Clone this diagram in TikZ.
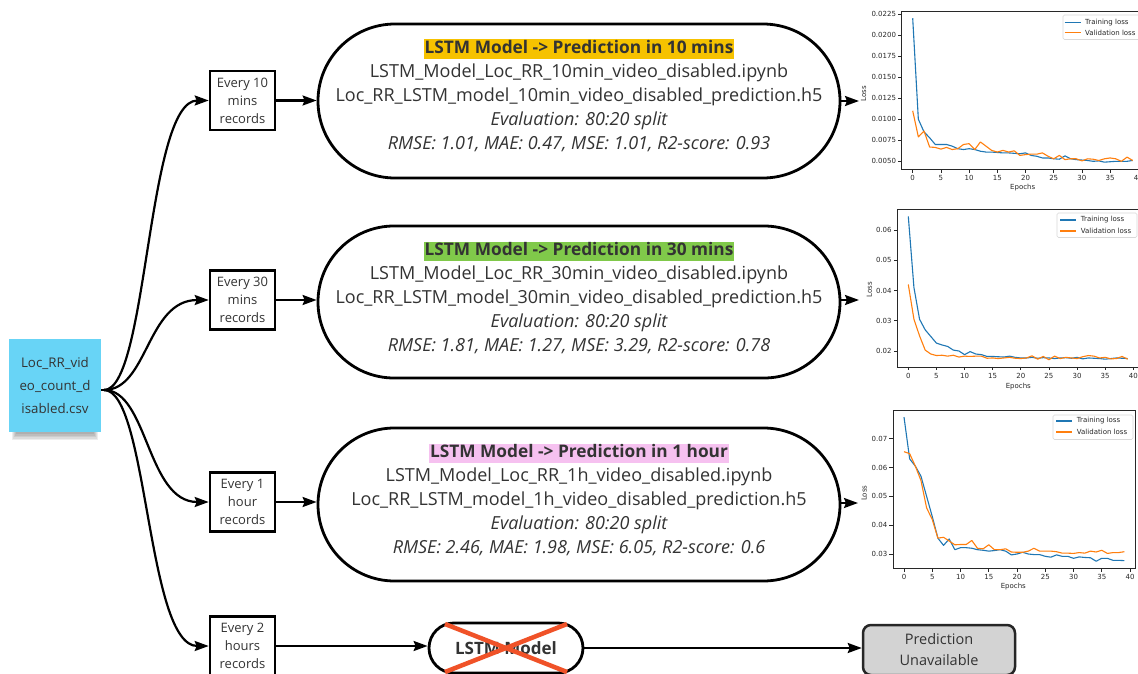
\documentclass[tikz,border=0pt]{standalone}
\usepackage{fontspec}
\setmainfont{Open Sans}
\newfontfamily\plotfont{DejaVu Sans}
\usetikzlibrary{arrows.meta,shapes.misc,calc}
\definecolor{srcblue}{RGB}{104,212,246}
\definecolor{hlyellow}{RGB}{246,194,0}
\definecolor{hlgreen}{RGB}{128,201,74}
\definecolor{hlpink}{RGB}{246,193,240}
\definecolor{txtgray}{RGB}{51,51,51}
\definecolor{crossred}{RGB}{240,82,40}
\definecolor{unavail}{RGB}{211,211,211}
\definecolor{mplblue}{RGB}{31,119,180}
\definecolor{mplorange}{RGB}{255,127,14}
\definecolor{axgray}{RGB}{40,40,40}
\setlength{\fboxsep}{1pt}
\newcommand{\hlbox}[2]{\colorbox{#1}{\rule[-4.5pt]{0pt}{17pt}\fontsize{17.3}{24}\selectfont\bfseries #2}}
\tikzset{
  flow/.style={line width=2.2pt, draw=black, -{Stealth[length=14pt,width=10pt,inset=2pt]}},
  ratebox/.style={draw=black, line width=2.6pt, minimum width=65pt, minimum height=59pt,
    inner sep=0pt, align=center, font=\fontsize{13}{18}\selectfont, text=txtgray},
  stadium/.style={rounded rectangle, draw=black, line width=2.8pt, minimum width=522pt, inner sep=0pt},
  bodytext/.style={align=center, font=\fontsize{18}{24}\selectfont, text=txtgray, inner sep=0pt},
  spine/.style={draw=axgray, line width=0.7pt},
  ticklbl/.style={font=\plotfont\fontsize{7}{8}\selectfont, text=axgray, inner sep=0pt},
  trainline/.style={draw=mplblue, line width=1.1pt, line join=round},
  validline/.style={draw=mplorange, line width=1.1pt, line join=round},
  legendbox/.style={draw=black!15, fill=white, rounded corners=1.5pt, line width=0.6pt},
}
\begin{document}
\begin{tikzpicture}[x=1pt,y=-1pt]
\clip (0,0) rectangle (1138,674);
\fill[white] (0,0) rectangle (1138,674);

% soft shadow under the source note
\foreach \i in {0,...,4}
  \fill[black, opacity=0.07] (16-\i,428) rectangle (94+\i,434+1.5*\i);

% source file
\node (src) [fill=srcblue, minimum width=92pt, minimum height=93pt, inner sep=0pt, align=center,
  font=\fontsize{13.3}{23}\selectfont, text=txtgray] at (55,385.5) {Loc\_RR\_vid\\eo\_count\_d\\isabled.csv};
\coordinate (fork) at (104,390);

% sampling boxes
\node (b1) [ratebox] at (242.5,100.5) {Every 10\\mins\\records};
\node (b2) [ratebox] at (242.5,300) {Every 30\\mins\\records};
\node (b3) [ratebox] at (242.5,502) {Every 1\\hour\\records};
\node (b4) [ratebox] at (242.5,646) {Every 2\\hours\\records};

% branches from the source
\draw[line width=2.2pt] (src.east |- fork) -- (fork);
\foreach \b in {b1,b2,b3,b4}
  \draw[flow] (fork) .. controls ($(fork)+(44,0)$) and ($(\b.west)+(-62,0)$) .. (\b.west);

% model stadiums
\node (s1) [stadium, minimum height=154pt] at (579,101) {};
\node (s2) [stadium, minimum height=152pt] at (579,302) {};
\node (s3) [stadium, minimum height=153pt] at (579,504.5) {};

\node (t1) [bodytext] at (579,95.5) {\hlbox{hlyellow}{LSTM Model -> Prediction in 10 mins}\\
  LSTM\_Model\_Loc\_RR\_10min\_video\_disabled.ipynb\\
  Loc\_RR\_LSTM\_model\_10min\_video\_disabled\_prediction.h5\\
  \itshape Evaluation: 80:20 split\\
  \itshape RMSE: 1.01, MAE: 0.47, MSE: 1.01, R2-score: 0.93};
\node (t2) [bodytext] at (579,298) {\hlbox{hlgreen}{LSTM Model -> Prediction in 30 mins}\\
  LSTM\_Model\_Loc\_RR\_30min\_video\_disabled.ipynb\\
  Loc\_RR\_LSTM\_model\_30min\_video\_disabled\_prediction.h5\\
  \itshape Evaluation: 80:20 split\\
  \itshape RMSE: 1.81, MAE: 1.27, MSE: 3.29, R2-score: 0.78};
\node (t3) [bodytext] at (579,500) {\hlbox{hlpink}{LSTM Model -> Prediction in 1 hour}\\
  LSTM\_Model\_Loc\_RR\_1h\_video\_disabled.ipynb\\
  Loc\_RR\_LSTM\_model\_1h\_video\_disabled\_prediction.h5\\
  \itshape Evaluation: 80:20 split\\
  \itshape RMSE: 2.46, MAE: 1.98, MSE: 6.05, R2-score: 0.6};

\draw[flow] (b1.east) -- (b1.east -| s1.west);
\draw[flow] (b2.east) -- (b2.east -| s2.west);
\draw[flow] (b3.east) -- (b3.east -| s3.west);

\coordinate (p1in) at (859,101);
\coordinate (p2in) at (859,300);
\coordinate (p3in) at (858,503);
\draw[flow] (s1.east) -- (p1in);
\draw[flow] (s2.east |- p2in) -- (p2in);
\draw[flow] (s3.east |- p3in) -- (p3in);

% two-hour branch: no model
\node (s4) [rounded rectangle, draw=black, line width=2.8pt, minimum width=154pt, minimum height=50pt,
  inner sep=0pt, font=\fontsize{17}{20}\selectfont\bfseries, text=txtgray] at (506,648) {LSTM Model};
\draw[crossred, line width=4.5pt] ($(s4.center)+(-61,-24)$) -- ($(s4.center)+(61,24)$);
\draw[crossred, line width=4.5pt] ($(s4.center)+(-61,24)$) -- ($(s4.center)+(61,-24)$);
\node (na) [draw=black!85, line width=2.5pt, rounded corners=8pt, fill=unavail, minimum width=152pt,
  minimum height=50pt, align=center, font=\fontsize{14.5}{21}\selectfont, text=txtgray] at (939,650)
  {Prediction\\Unavailable};
\draw[flow] (b4.east) -- (b4.east -| s4.west);
\draw[flow] (s4.east) -- (s4.east -| na.west);

% ---------- loss curve, 10 min model ----------
\begin{scope}[xshift=912.7pt, yshift=-203.4pt, x=5.64pt, y=0.8416pt]
  \draw[spine] (-1.95,40.5) rectangle (40.95,228.6);
  \foreach \v in {0,5,...,40} {
    \draw[spine] (\v,40.5) -- ++(0pt,-3.5pt);
    \node (p1x\v) [ticklbl, anchor=north] at ($(\v,40.5)+(0pt,-6pt)$) {\v};
  }
  \foreach \v/\l in {50/0.0050,75/0.0075,100/0.0100,125/0.0125,150/0.0150,175/0.0175,200/0.0200,225/0.0225} {
    \draw[spine] (-1.95,\v) -- ++(-3.5pt,0pt);
    \node (p1y\v) [ticklbl, anchor=east] at ($(-1.95,\v)+(-5.5pt,0pt)$) {\l};
  }
  \draw[trainline] plot coordinates {(0,220) (1,100) (2,85) (3,78) (4,70) (5,70) (6,70) (7,68) (8,65) (9,64)
    (10,65) (11,64) (12,62) (13,61) (14,61) (15,60.5) (16,60) (17,60) (18,59.5) (19,59) (20,60) (21,57)
    (22,56) (23,54) (24,54) (25,53) (26,52.5) (27,56.5) (28,53) (29,52) (30,51.5) (31,51) (32,50) (33,50.5)
    (34,49) (35,49.5) (36,50) (37,50) (38,50) (39,51)};
  \draw[validline] plot coordinates {(0,110) (1,79) (2,86) (3,67) (4,66.5) (5,64.5) (6,66.5) (7,64) (8,65)
    (9,70) (10,71) (11,64) (12,73) (13,68) (14,63) (15,61) (16,63) (17,61) (18,62.5) (19,57) (20,58)
    (21,58.5) (22,58.5) (23,60) (24,56) (25,53) (26,57) (27,52) (28,53) (29,53) (30,50.5) (31,53) (32,52.5)
    (33,51) (34,53) (35,54) (36,53) (37,50) (38,55) (39,51)};
\end{scope}
\node (p1loss) [ticklbl, rotate=90] at (863.5,93.5) {Loss};
\node (p1ep) [ticklbl] at (1022.7,187.5) {Epochs};
\draw[legendbox] (1063,15) rectangle (1145,39.5);
\draw[mplblue, line width=1.1pt] (1064.5,22.3) -- (1080.5,22.3);
\draw[mplorange, line width=1.1pt] (1064.5,32.7) -- (1080.5,32.7);
\node (p1l1) [ticklbl, anchor=west] at (1085,22.3) {Training loss};
\node (p1l2) [ticklbl, anchor=west] at (1085,32.7) {Validation loss};

% ---------- loss curve, 30 min model ----------
\begin{scope}[xshift=908.3pt, yshift=-411.5pt, x=5.625pt, y=3.025pt]
  \draw[spine] (-1.95,14.73) rectangle (40.95,66.87);
  \foreach \v in {0,5,...,40} {
    \draw[spine] (\v,14.73) -- ++(0pt,-3.5pt);
    \node (p2x\v) [ticklbl, anchor=north] at ($(\v,14.73)+(0pt,-6pt)$) {\v};
  }
  \foreach \v/\l in {20/0.02,30/0.03,40/0.04,50/0.05,60/0.06} {
    \draw[spine] (-1.95,\v) -- ++(-3.5pt,0pt);
    \node (p2y\v) [ticklbl, anchor=east] at ($(-1.95,\v)+(-5.5pt,0pt)$) {\l};
  }
  \draw[trainline] plot coordinates {(0,64.5) (1,41) (2,30.5) (3,27) (4,24.8) (5,22.6) (6,22) (7,21.5)
    (8,20.3) (9,20) (10,18.8) (11,19.8) (12,19) (13,18.8) (14,18.2) (15,18.2) (16,18.1) (17,18) (18,18.3)
    (19,17.9) (20,17.7) (21,17.7) (22,17.9) (23,17.6) (24,17.8) (25,17.7) (26,17.5) (27,17.7) (28,17.8)
    (29,17.6) (30,17.9) (31,17.4) (32,17.7) (33,17.6) (34,17.5) (35,17.3) (36,17.5) (37,17.7) (38,17.6)
    (39,17.5)};
  \draw[validline] plot coordinates {(0,42) (1,30.5) (2,25) (3,20.3) (4,19) (5,18.5) (6,18.6) (7,18.3)
    (8,18.6) (9,18) (10,18.3) (11,18.2) (12,18.3) (13,18.3) (14,17.6) (15,17.7) (16,17.5) (17,17.7)
    (18,17.9) (19,17.6) (20,17.5) (21,17.7) (22,18.4) (23,17.3) (24,18.2) (25,17.1) (26,18.3) (27,17.5)
    (28,17.9) (29,17.7) (30,17.5) (31,18.1) (32,18.5) (33,18.3) (34,17.7) (35,17.9) (36,17.4) (37,17.5)
    (38,18.2) (39,17.3)};
\end{scope}
\node (p2loss) [ticklbl, rotate=90] at (869.3,290) {Loss};
\node (p2ep) [ticklbl] at (1018.3,386.5) {Epochs};
\draw[legendbox] (1057,213) rectangle (1137,237.5);
\draw[mplblue, line width=1.1pt] (1060,220) -- (1076,220);
\draw[mplorange, line width=1.1pt] (1060,231) -- (1076,231);
\node (p2l1) [ticklbl, anchor=west] at (1080.7,220) {Training loss};
\node (p2l2) [ticklbl, anchor=west] at (1080.7,231) {Validation loss};

% ---------- loss curve, 1 hour model ----------
\begin{scope}[xshift=904pt, yshift=-640.5pt, x=5.65pt, y=2.883pt]
  \draw[spine] (-1.95,25) rectangle (40.95,80);
  \foreach \v in {0,5,...,40} {
    \draw[spine] (\v,25) -- ++(0pt,-3.5pt);
    \node (p3x\v) [ticklbl, anchor=north] at ($(\v,25)+(0pt,-6pt)$) {\v};
  }
  \foreach \v/\l in {30/0.03,40/0.04,50/0.05,60/0.06,70/0.07} {
    \draw[spine] (-1.95,\v) -- ++(-3.5pt,0pt);
    \node (p3y\v) [ticklbl, anchor=east] at ($(-1.95,\v)+(-5.5pt,0pt)$) {\l};
  }
  \draw[trainline] plot coordinates {(0,77.5) (1,63) (2,60.5) (3,57) (4,50) (5,43) (6,35.5) (7,33) (8,35.2)
    (9,31.5) (10,32.2) (11,32.2) (12,32) (13,31.5) (14,31.3) (15,31) (16,31.2) (17,31.5) (18,31) (19,29.7)
    (20,30) (21,30.6) (22,30) (23,29.8) (24,29.8) (25,29.2) (26,28.9) (27,29.7) (28,29.2) (29,29.2) (30,28.5)
    (31,29) (32,28.8) (33,28.7) (34,27.5) (35,28.5) (36,28.5) (37,27.8) (38,27.8) (39,27.7)};
  \draw[validline] plot coordinates {(0,65.5) (1,64.8) (2,60.5) (3,55.5) (4,46) (5,42) (6,35.5) (7,35.8)
    (8,34.5) (9,33.2) (10,33.3) (11,33.3) (12,34.7) (13,32) (14,31.8) (15,33.2) (16,31.5) (17,31.5)
    (18,31.8) (19,30.7) (20,30.6) (21,30.6) (22,31) (23,32) (24,31) (25,31) (26,31) (27,30.8) (28,30.3)
    (29,30.3) (30,30.2) (31,30.5) (32,30.3) (33,31) (34,30.7) (35,31.3) (36,30.2) (37,30.5) (38,30.5)
    (39,30.8)};
\end{scope}
\node (p3loss) [ticklbl, rotate=90] at (864,493.3) {Loss};
\node (p3ep) [ticklbl] at (1013.3,586.5) {Epochs};
\draw[legendbox] (1053,415) rectangle (1133,439.5);
\draw[mplblue, line width=1.1pt] (1056,421) -- (1072,421);
\draw[mplorange, line width=1.1pt] (1056,432) -- (1072,432);
\node (p3l1) [ticklbl, anchor=west] at (1076.7,421) {Training loss};
\node (p3l2) [ticklbl, anchor=west] at (1076.7,432) {Validation loss};
\end{tikzpicture}
\end{document}
